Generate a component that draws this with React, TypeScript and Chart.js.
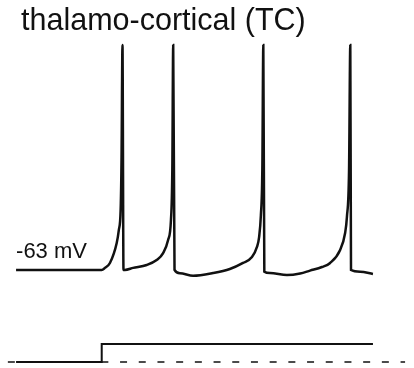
import React, { useEffect, useRef } from "react";
import { Chart, registerables } from "chart.js";

Chart.register(...registerables);

// Membrane potential trace (time in ms, voltage in mV)
const vTime = [
  0, 240, 249, 263, 282, 288, 293, 295.5, 298.2, 301,
  305, 328, 366, 394, 412, 426, 434, 437.8, 440.3, 444,
  459, 496, 552, 599, 636, 661, 675, 681, 686, 690, 692.8, 695.6,
  711.5, 759, 796, 823.6, 857, 880, 908, 922, 927, 933, 936.5, 938.5,
  964, 1000,
];
const vValues = [
  -63, -63, -62.1, -59.9, -51.0, -45.2, -36.4, -14.1, 37, -63,
  -63, -62.1, -60.8, -58.6, -55.5, -49.7, -40.8, -18.6, 37, -63,
  -64.5, -65.6, -64.4, -62.6, -59.9, -57.3, -52.8, -48.4, -38.6, -18.6, 37, -63.8,
  -64.4, -65.3, -64.6, -63.3, -61.7, -59.9, -54.1, -46.6, -39.5, -18.6, 37, -63,
  -63.8, -64.8,
];

// Injected current step (time in ms, current in nA)
const iTime = [0, 240, 240, 1000];
const iValues = [0, 0, 0.1, 0.1];

// Zero-current reference line
const zeroTime = [-23, 1090];
const zeroValues = [0, 0];

const titleText = "thalamo-cortical (TC)";
const restLabel = "-63 mV";
const restValue = -63;

const toXY = (xs: number[], ys: number[]) => xs.map((x, i) => ({ x, y: ys[i] }));

const textPlugin = {
  id: "textLabels",
  afterDraw(chart: any) {
    const ctx = chart.ctx;
    const xs = chart.scales.x;
    const ys = chart.scales.y;
    ctx.save();
    ctx.fillStyle = "#111";
    ctx.textBaseline = "alphabetic";
    ctx.textAlign = "left";
    ctx.font = '30.5px "Liberation Sans", Arial, sans-serif';
    ctx.fillText(titleText, 21, 30);
    ctx.font = '22px "Liberation Sans", Arial, sans-serif';
    ctx.fillText(restLabel, xs.getPixelForValue(vTime[0]), ys.getPixelForValue(restValue) - 12);
    ctx.restore();
  },
};

export default function App() {
  const ref = useRef<HTMLCanvasElement | null>(null);
  useEffect(() => {
    if (!ref.current) return;
    const chart = new Chart(ref.current, {
      type: "line",
      data: {
        datasets: [
          {
            data: toXY(vTime, vValues),
            yAxisID: "y",
            borderColor: "#111",
            borderWidth: 2.5,
            pointRadius: 0,
            cubicInterpolationMode: "monotone",
            fill: false,
          },
          {
            data: toXY(zeroTime, zeroValues),
            yAxisID: "y2",
            borderColor: "#111",
            borderWidth: 1.5,
            borderDash: [7, 11.7],
            pointRadius: 0,
            fill: false,
          },
          {
            data: toXY(iTime, iValues),
            yAxisID: "y2",
            borderColor: "#111",
            borderWidth: 2,
            pointRadius: 0,
            fill: false,
          },
        ],
      },
      options: {
        animation: false,
        responsive: false,
        layout: { padding: 0 },
        plugins: {
          legend: { display: false },
          tooltip: { enabled: false },
          title: { display: false },
        },
        scales: {
          x: { type: "linear", min: -45, max: 1115, display: false },
          y: { type: "linear", min: -106.6, max: 57, display: false },
          y2: { type: "linear", min: -0.0333, max: 2.011, display: false },
        },
      },
      plugins: [textPlugin],
    });
    return () => chart.destroy();
  }, []);
  return (
    <div style={{ position: "fixed", left: 0, top: 0, width: 414, height: 368, background: "#fff" }}>
      <canvas ref={ref} width={414} height={368} style={{ width: 414, height: 368 }} />
    </div>
  );
}
